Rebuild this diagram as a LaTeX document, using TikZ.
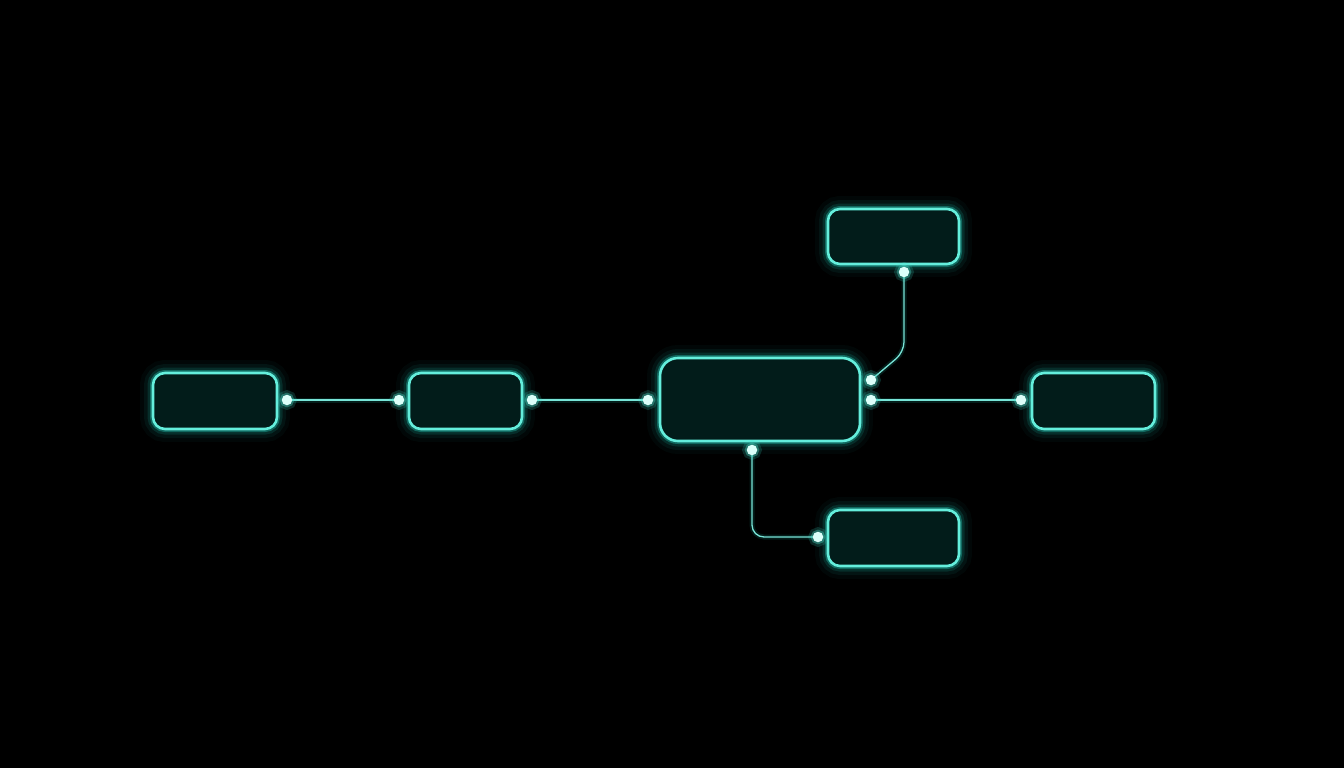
\documentclass[tikz,border=0pt]{standalone}
\begin{document}
\begin{tikzpicture}[x=1pt,y=-1pt,
  neon/.style={draw={rgb,255:red,100;green,238;blue,220}},
  box/.style={neon, line width=2.6pt, rounded corners=12pt, inner sep=0pt,
    fill={rgb,255:red,2;green,28;blue,26},
    preaction={draw={rgb,255:red,30;green,200;blue,180}, line width=26pt, draw opacity=0.04},
    preaction={draw={rgb,255:red,30;green,200;blue,180}, line width=18pt, draw opacity=0.07},
    preaction={draw={rgb,255:red,30;green,205;blue,185}, line width=11pt, draw opacity=0.14},
    preaction={draw={rgb,255:red,40;green,215;blue,195}, line width=6pt, draw opacity=0.35}},
  wire/.style={draw={rgb,255:red,120;green,228;blue,215}, line width=1.3pt,
    preaction={draw={rgb,255:red,30;green,200;blue,180}, line width=5pt, draw opacity=0.15}},
  dotc/.style={circle, inner sep=0pt, minimum size=10.5pt, fill={rgb,255:red,220;green,255;blue,250},
    preaction={fill={rgb,255:red,60;green,220;blue,200}, fill opacity=0.18, draw={rgb,255:red,60;green,220;blue,200}, draw opacity=0.18, line width=9pt},
    preaction={draw={rgb,255:red,80;green,230;blue,210}, draw opacity=0.35, line width=4pt}}
]
\fill[black] (0,0) rectangle (1344,768);
\useasboundingbox (0,0) rectangle (1344,768);

\node[box, minimum width=124pt, minimum height=56pt] (a) at (215,401) {};
\node[box, minimum width=113pt, minimum height=56pt] (b) at (465.5,401) {};
\node[box, minimum width=200pt, minimum height=83pt, rounded corners=18pt] (c) at (760,399.5) {};
\node[box, minimum width=131pt, minimum height=55pt] (t) at (893.5,236.5) {};
\node[box, minimum width=123pt, minimum height=56pt] (r) at (1093.5,401) {};
\node[box, minimum width=131pt, minimum height=56pt] (d) at (893.5,538) {};

\coordinate (a1) at (287,400);
\coordinate (b0) at (399,400);
\coordinate (b1) at (532,400);
\coordinate (c0) at (648,400);
\coordinate (c1) at (871,380);
\coordinate (c2) at (871,400);
\coordinate (r0) at (1021,400);
\coordinate (c3) at (752,450);
\coordinate (d0) at (818,537);
\coordinate (t0) at (904,272);

\path[wire] (a1) -- (b0);
\path[wire] (b1) -- (c0);
\path[wire] (c2) -- (r0);
\path[wire, rounded corners=12pt] (c3) -- (752,537) -- (d0);
\path[wire, rounded corners=10pt] (t0) -- (904,352) -- (c1);

\foreach \p in {a1,b0,b1,c0,c1,c2,r0,c3,d0,t0}
  \node[dotc] at (\p) {};
\end{tikzpicture}
\end{document}
